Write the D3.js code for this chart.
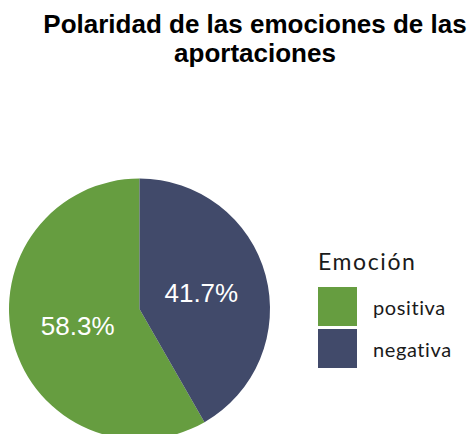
<!DOCTYPE html>
<html>
<head>
<meta charset="utf-8">
<script src="https://cdn.jsdelivr.net/npm/d3@7"></script>
<style>
  html, body { margin: 0; padding: 0; background: #fff; }
  svg { display: block; }
</style>
</head>
<body>
<svg id="chart" width="475" height="434"></svg>
<script>
// Emotion polarity of contributions
const categories = ["positiva", "negativa"];
const shares = [58.3, 41.7];
const palette = ["#669d40", "#414a6a"];
const titleLines = ["Polaridad de las emociones de las", "aportaciones"];
const legendTitle = "Emoción";

const svg = d3.select("#chart");

// Title
svg.append("text")
  .attr("x", 255).attr("y", 33)
  .attr("text-anchor", "middle")
  .style("font-family", "'Liberation Sans', Arial, sans-serif")
  .style("font-weight", "bold")
  .style("font-size", "26px")
  .attr("fill", "#000")
  .selectAll("tspan").data(titleLines).join("tspan")
  .attr("x", 255)
  .attr("dy", (d, i) => i === 0 ? 0 : 29)
  .text(d => d);

// Pie
const cx = 139.5, cy = 309, r = 130.5;
const color = d3.scaleOrdinal().domain(categories).range(palette);
const data = categories.map((c, i) => ({ cat: c, value: shares[i] }));

// negativa starts at 12 o'clock going clockwise, positiva fills the rest
const pie = d3.pie().value(d => d.value).sort(null)
  .startAngle(2 * Math.PI).endAngle(0);
const arcs = pie(data);
const arc = d3.arc().innerRadius(0).outerRadius(r);
const labelArc = d3.arc().innerRadius(64).outerRadius(64);

const g = svg.append("g").attr("transform", `translate(${cx},${cy})`);
g.selectAll("path").data(arcs).join("path")
  .attr("d", arc)
  .attr("fill", d => color(d.data.cat));

g.selectAll("text.lbl").data(arcs).join("text")
  .attr("class", "lbl")
  .attr("transform", d => {
    const [x, y] = labelArc.centroid(d);
    return `translate(${x},${y})`;
  })
  .attr("text-anchor", "middle")
  .attr("dy", "0.35em")
  .style("font-family", "'Liberation Sans', Arial, sans-serif")
  .style("font-size", "26px")
  .attr("fill", "#fff")
  .text(d => d3.format(".1f")(d.data.value) + "%");

// Legend
const lg = svg.append("g").attr("transform", "translate(318,0)");
lg.append("text")
  .attr("x", 0).attr("y", 270)
  .style("font-family", "Lato, sans-serif")
  .style("font-size", "23px")
  .style("letter-spacing", "1.6px")
  .attr("fill", "#1a1a1a")
  .text(legendTitle);

const items = lg.selectAll("g.item").data(categories).join("g")
  .attr("class", "item")
  .attr("transform", (d, i) => `translate(0,${287 + i * 42})`);
items.append("rect")
  .attr("width", 39).attr("height", 39)
  .attr("fill", d => color(d));
items.append("text")
  .attr("x", 55).attr("y", 28)
  .style("font-family", "Lato, sans-serif")
  .style("font-size", "20px")
  .style("letter-spacing", "0.6px")
  .attr("fill", "#1a1a1a")
  .text(d => d);
</script>
</body>
</html>
